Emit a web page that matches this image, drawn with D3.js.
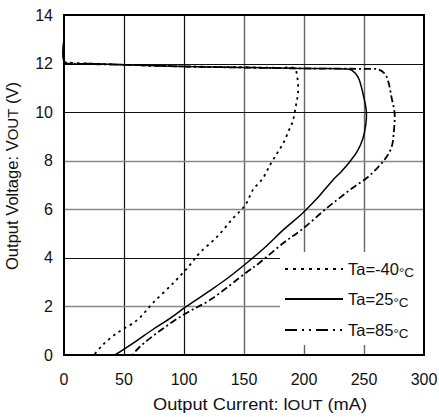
<!DOCTYPE html>
<html>
<head>
<meta charset="utf-8">
<script src="https://cdn.jsdelivr.net/npm/d3@7"></script>
<style>
  html, body { margin: 0; padding: 0; background: #fff; }
  svg { display: block; font-family: "Liberation Sans", Arial, sans-serif; }
</style>
</head>
<body>
<svg id="chart" width="439" height="417"></svg>
<script>
// ---- data ----
const xTicks = [0, 50, 100, 150, 200, 250, 300];
const yTicks = [0, 2, 4, 6, 8, 10, 12, 14];
const seriesNames = ["Ta=-40", "Ta=25", "Ta=85"];
const unitLabel = "°C";

// [Iout (mA), Vout (V)]
const ta_m40 = [[0,12.05],[20,12.0],[50,11.95],[100,11.88],[150,11.85],[180,11.82],[192,11.8],[194.5,11.4],[195,10.8],[193,10.2],[190.5,9.6],[187.5,9.26],[182.5,8.7],[177.5,8.3],[172,7.85],[166,7.3],[157.5,6.8],[151,6.17],[141,5.64],[127.5,4.86],[113,4.2],[104,3.65],[91,2.96],[74,2.14],[61,1.44],[44,0.9],[32,0.4],[25,0]];
const ta_25 = [[0,13.0],[0.6,12.05],[20,12.0],[50,11.95],[100,11.88],[150,11.84],[200,11.8],[235,11.78],[240,11.72],[245,11.44],[249,10.8],[252,10.0],[251.5,9.5],[249,8.9],[244,8.35],[238,7.95],[231,7.55],[224,7.2],[211,6.45],[199,5.85],[182.5,5.14],[169,4.5],[155,3.9],[136,3.15],[120,2.6],[102,2.0],[88,1.5],[74,1.05],[58,0.5],[42.5,0]];
const ta_85 = [[0,12.0],[50,11.95],[100,11.88],[200,11.8],[250,11.78],[262,11.76],[267,11.6],[270,11.3],[273,10.6],[275.5,9.95],[275,9.26],[273,8.56],[268,8.1],[262,7.75],[252.5,7.3],[241,6.9],[230,6.48],[219,6.05],[199,5.2],[182.5,4.6],[163,3.8],[152,3.4],[121.5,2.26],[101,1.7],[80,1.0],[63,0.33],[57,0]];

const svg = d3.select("#chart");
const x = d3.scaleLinear().domain([0, 300]).range([64, 424]);
const y = d3.scaleLinear().domain([0, 14]).range([355, 15]);

// grid (vertical)
const darkV = [50, 100];
svg.append("g").selectAll("line").data(xTicks.slice(1, -1)).join("line")
  .attr("x1", d => Math.round(x(d)) + 0.5).attr("x2", d => Math.round(x(d)) + 0.5)
  .attr("y1", y(14)).attr("y2", y(0))
  .attr("stroke", d => darkV.includes(d) ? "#111" : "#666")
  .attr("stroke-width", d => darkV.includes(d) ? 1.2 : 1.4);
// grid (horizontal)
const darkH = [12, 10, 4];
svg.append("g").selectAll("line").data(yTicks.slice(1, -1)).join("line")
  .attr("x1", x(0)).attr("x2", x(300))
  .attr("y1", d => Math.round(y(d)) + 0.5).attr("y2", d => Math.round(y(d)) + 0.5)
  .attr("stroke", d => darkH.includes(d) ? "#111" : "#888")
  .attr("stroke-width", d => darkH.includes(d) ? 1.2 : 1.6);

// legend background
svg.append("rect").attr("x", 280).attr("y", 252).attr("width", 143).attr("height", 93).attr("fill", "#fff");

// curves
const line = d3.line().x(d => x(d[0])).y(d => y(d[1])).curve(d3.curveCatmullRom.alpha(0.5));
const styles = [
  { data: ta_m40, dash: "2.5,4", width: 1.8 },
  { data: ta_25, dash: null, width: 1.5 },
  { data: ta_85, dash: "7,3,2,3", width: 1.8 }
];
styles.forEach(s => {
  svg.append("path").attr("d", line(s.data)).attr("fill", "none")
    .attr("stroke", "#000").attr("stroke-width", s.width)
    .attr("stroke-dasharray", s.dash);
});

// border
svg.append("rect").attr("x", x(0)).attr("y", y(14)).attr("width", x(300) - x(0)).attr("height", y(0) - y(14))
  .attr("fill", "none").attr("stroke", "#000").attr("stroke-width", 2);

// tick labels
svg.append("g").selectAll("text").data(xTicks).join("text")
  .attr("x", d => x(d)).attr("y", 385).attr("text-anchor", "middle")
  .attr("font-size", 16).attr("fill", "#111").text(d => d);
svg.append("g").selectAll("text").data(yTicks).join("text")
  .attr("x", 53).attr("y", d => y(d) + 5.5).attr("text-anchor", "end")
  .attr("font-size", 16).attr("fill", "#111").text(d => d);

// axis titles
const xt = svg.append("text").attr("x", 260).attr("y", 410).attr("text-anchor", "middle")
  .attr("font-size", 16).attr("fill", "#111").attr("textLength", 214).attr("lengthAdjust", "spacingAndGlyphs");
xt.append("tspan").text("Output Current: l");
xt.append("tspan").attr("font-size", 14.5).text("OUT");
xt.append("tspan").text(" (mA)");

const yt = svg.append("text").attr("transform", "translate(18,176) rotate(-90)")
  .attr("text-anchor", "middle").attr("font-size", 16).attr("fill", "#111")
  .attr("textLength", 188).attr("lengthAdjust", "spacingAndGlyphs");
yt.append("tspan").text("Output Voltage: V");
yt.append("tspan").attr("font-size", 14.5).text("OUT");
yt.append("tspan").text(" (V)");

// legend
const legY = [269, 299, 330];
const legDash = ["3,5", null, "12,5,2,5,2,5"];
seriesNames.forEach((name, i) => {
  svg.append("line").attr("x1", 285).attr("x2", 343).attr("y1", legY[i]).attr("y2", legY[i])
    .attr("stroke", "#000").attr("stroke-width", 1.8).attr("stroke-dasharray", legDash[i]);
  const t = svg.append("text").attr("x", 348).attr("y", legY[i] + 6)
    .attr("font-size", 16.5).attr("fill", "#111");
  t.append("tspan").text(name);
  t.append("tspan").attr("font-size", 13.5).attr("dy", 2).text(unitLabel);
});
</script>
</body>
</html>
